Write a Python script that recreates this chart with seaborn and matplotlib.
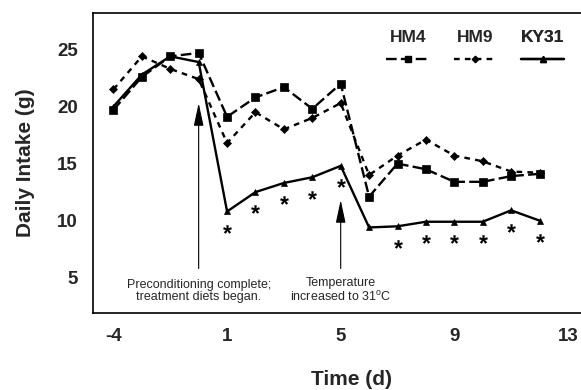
import matplotlib
matplotlib.use("Agg")
import matplotlib.pyplot as plt
from matplotlib.lines import Line2D
from matplotlib.transforms import offset_copy
import pandas as pd
import seaborn as sns

# Daily intake (g); there is no day 0 on the time axis
days = [-4, -3, -2, -1, 1, 2, 3, 4, 5, 6, 7, 8, 9, 10, 11, 12]
hm4 = [19.7, 22.6, 24.4, 24.7, 19.1, 20.8, 21.7, 19.8, 22.0, 12.1, 15.0, 14.5, 13.4, 13.4, 13.9, 14.1]
hm9 = [21.5, 24.4, 23.3, 22.4, 16.8, 19.5, 18.0, 19.0, 20.3, 14.0, 15.7, 17.1, 15.7, 15.2, 14.3, 14.2]
ky31 = [20.0, 22.8, 24.4, 23.9, 10.8, 12.5, 13.3, 13.8, 14.8, 9.4, 9.5, 9.9, 9.9, 9.9, 10.9, 10.0]
varieties = ["HM4", "HM9", "KY31"]

# days where KY31 differs (asterisks)
signif_days = [1, 2, 3, 4, 5, 7, 8, 9, 10, 11, 12]

tick_days = [-4, 1, 5, 9, 13]
yticks = [5, 10, 15, 20, 25]

# arrows: (day, tip value, label)
events = [
    (0, 20.3, "Preconditioning complete;\ntreatment diets began."),
    (5, 11.8, "Temperature\nincreased to 31$^{\\rm o}$C"),
]


def day_to_pos(d):
    # the axis skips day 0, so pre-treatment days are shifted by one
    return d + 1 if d < 0 else d


sns.set_style("white")
plt.rcParams["font.family"] = ["Liberation Sans", "DejaVu Sans"]
plt.rcParams["mathtext.fontset"] = "custom"
plt.rcParams["mathtext.rm"] = "Liberation Sans"
plt.rcParams["mathtext.bf"] = "Liberation Sans:bold"

df = pd.DataFrame({
    "pos": [day_to_pos(d) for d in days] * 3,
    "intake": hm4 + hm9 + ky31,
    "variety": [v for v in varieties for _ in days],
})

markers = {"HM4": "s", "HM9": "D", "KY31": "^"}
dashes = {"HM4": (4.5, 1.8), "HM9": (2.4, 2.2), "KY31": ""}
msize = {"HM4": 5.5, "HM9": 3.8, "KY31": 5}

fig = plt.figure(figsize=(5.81, 3.9), dpi=100)
ax = fig.add_axes([93 / 581, 77 / 390, 488 / 581, 300 / 390])

for v in varieties:
    sub = df[df["variety"] == v]
    sns.lineplot(data=sub, x="pos", y="intake", ax=ax, color="black",
                 marker=markers[v], markersize=msize[v], markeredgecolor="black",
                 markeredgewidth=0.5, lw=1.7, dashes=False, legend=False)
    line = ax.get_lines()[-1]
    if dashes[v]:
        line.set_dashes(dashes[v])

# asterisks under KY31
ky = pd.DataFrame({"day": days, "intake": ky31})
ky = ky[ky["day"].isin(signif_days)]
trans = offset_copy(ax.transData, fig=fig, y=-12.5, units="points")
sns.scatterplot(x=[day_to_pos(d) for d in ky["day"]], y=ky["intake"], ax=ax,
                marker="$\\mathbf{*}$", s=40, color="black", linewidth=0,
                transform=trans, legend=False)

for d, tip, label in events:
    x = day_to_pos(d)
    ax.annotate("", xy=(x, tip), xytext=(x, 5.8),
                arrowprops=dict(arrowstyle="-|>,head_length=1.4,head_width=0.3",
                                mutation_scale=10, lw=0.8, color="black",
                                shrinkA=0, shrinkB=0))
    ax.text(x, 3.85, label, ha="center", va="center", fontsize=9, linespacing=1.05)

# legend: one small legend per variety, name above the line sample
leg_x = [0.645, 0.783, 0.922]
for v, lx in zip(varieties, leg_x):
    h = Line2D([], [], color="black", lw=1.7, marker=markers[v],
               markersize=msize[v] - 0.5, markeredgecolor="black")
    if dashes[v]:
        h.set_dashes(dashes[v])
    lg = ax.legend(handles=[h], labels=[""], title=v, loc="center",
                   bbox_to_anchor=(lx, 0.882), frameon=False, handlelength=3.1,
                   handletextpad=0, borderpad=0, borderaxespad=0,
                   title_fontproperties={"weight": "bold", "size": 12.5})
    ax.add_artist(lg)

ax.set_xlim(-3.72, 13.46)
ax.set_ylim(1.9, 28.2)
ax.set_xticks([day_to_pos(d) for d in tick_days])
ax.set_xticklabels([str(d) for d in tick_days])
ax.set_yticks(yticks)
ax.tick_params(axis="both", length=0, labelsize=13.5)
ax.tick_params(axis="x", pad=11)
ax.tick_params(axis="y", pad=11)
for lab in ax.get_xticklabels() + ax.get_yticklabels():
    lab.set_fontweight("bold")

ax.set_xlabel("Time (d)", fontsize=15, fontweight="bold", labelpad=18)
ax.xaxis.label.set_x(0.53)
ax.set_ylabel("Daily Intake (g)", fontsize=15, fontweight="bold", labelpad=16)

for side in ["left", "bottom", "top"]:
    ax.spines[side].set_color("black")
    ax.spines[side].set_linewidth(1.2)
ax.spines["right"].set_visible(False)

fig.savefig("out.png", dpi=100)
